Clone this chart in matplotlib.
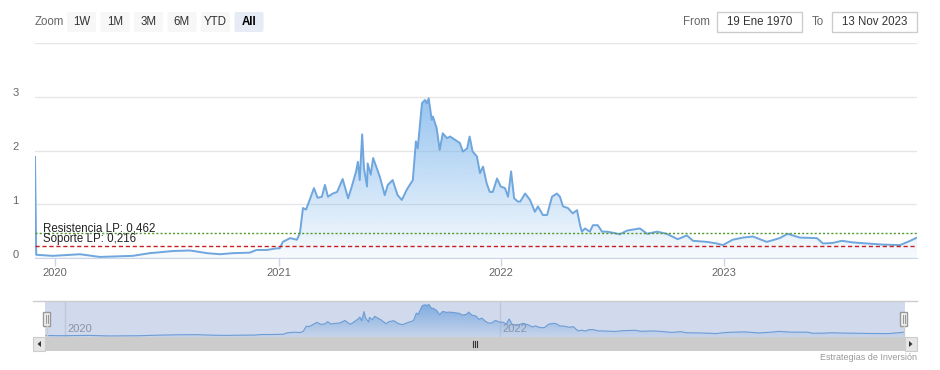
import matplotlib
matplotlib.use("Agg")
import matplotlib.pyplot as plt
import matplotlib.dates as mdates
from matplotlib.patches import Polygon, Rectangle, FancyBboxPatch
from matplotlib.transforms import ScaledTranslation
import numpy as np
import pandas as pd

plt.rcParams["font.family"] = ["Liberation Sans", "DejaVu Sans"]

# ---- data ----
dates = [
    "2019-11-29", "2019-12-01", "2019-12-28", "2020-02-11", "2020-03-14", "2020-05-07",
    "2020-06-04", "2020-07-12", "2020-08-09", "2020-09-06", "2020-09-27", "2020-10-18",
    "2020-11-15", "2020-11-26", "2020-12-13", "2020-12-29",
    "2021-01-03", "2021-01-08", "2021-01-20", "2021-01-31", "2021-02-05", "2021-02-10",
    "2021-02-15", "2021-02-21", "2021-02-28", "2021-03-06", "2021-03-13", "2021-03-18",
    "2021-03-23", "2021-03-31", "2021-04-07", "2021-04-16", "2021-04-25", "2021-05-01",
    "2021-05-08", "2021-05-11", "2021-05-14", "2021-05-18", "2021-05-21", "2021-05-26",
    "2021-05-27", "2021-06-01", "2021-06-05", "2021-06-11", "2021-06-16", "2021-06-24",
    "2021-06-29", "2021-07-07", "2021-07-15", "2021-07-22", "2021-07-30", "2021-08-09",
    "2021-08-14", "2021-08-17", "2021-08-24", "2021-08-29", "2021-09-01", "2021-09-04",
    "2021-09-09", "2021-09-11", "2021-09-17", "2021-09-22", "2021-09-27", "2021-10-04",
    "2021-10-09", "2021-10-17", "2021-10-25", "2021-10-30", "2021-11-06", "2021-11-10",
    "2021-11-15", "2021-11-22", "2021-11-27", "2021-12-02", "2021-12-08", "2021-12-13",
    "2021-12-18", "2021-12-25", "2021-12-31",
    "2022-01-07", "2022-01-12", "2022-01-17", "2022-01-22", "2022-01-28", "2022-02-01",
    "2022-02-09", "2022-02-17", "2022-02-25", "2022-03-02", "2022-03-10", "2022-03-17",
    "2022-03-25", "2022-04-02", "2022-04-07", "2022-04-12", "2022-04-20", "2022-04-28",
    "2022-05-05", "2022-05-10", "2022-05-13", "2022-05-18", "2022-05-26", "2022-05-31",
    "2022-06-08", "2022-06-15", "2022-06-23", "2022-07-03", "2022-07-14", "2022-07-26",
    "2022-08-16", "2022-08-28", "2022-09-13", "2022-09-29", "2022-10-17", "2022-11-01",
    "2022-11-11", "2022-12-04", "2022-12-20", "2022-12-30",
    "2023-01-15", "2023-02-01", "2023-02-17", "2023-03-12", "2023-04-02", "2023-04-15",
    "2023-05-05", "2023-06-02", "2023-06-12", "2023-06-28", "2023-07-13", "2023-07-31",
    "2023-08-23", "2023-09-18", "2023-10-16", "2023-10-29", "2023-11-13",
]
values = [
    1.88, 0.06, 0.04, 0.07, 0.02, 0.04,
    0.09, 0.13, 0.14, 0.09, 0.07, 0.09,
    0.10, 0.15, 0.15, 0.18,
    0.18, 0.30, 0.37, 0.34, 0.46, 0.93,
    0.90, 1.08, 1.30, 1.12, 1.14, 1.36,
    1.14, 1.20, 1.23, 1.47, 1.11, 1.33,
    1.61, 1.79, 1.45, 2.30, 1.67, 1.33,
    1.76, 1.55, 1.86, 1.67, 1.51, 1.17,
    1.36, 1.45, 1.17, 1.08, 1.27, 1.45,
    2.17, 2.04, 2.88, 2.94, 2.88, 2.97,
    2.57, 2.63, 2.42, 2.01, 2.32, 2.23,
    2.26, 2.20, 2.14, 1.98, 2.04, 2.26,
    1.98, 1.89, 1.58, 1.70, 1.39, 1.23,
    1.23, 1.48, 1.33,
    1.30, 1.14, 1.61, 1.11, 1.05, 1.05,
    1.20, 1.08, 0.86, 0.96, 0.80, 0.80,
    1.14, 1.20, 1.14, 0.96, 0.93, 0.83,
    0.89, 0.61, 0.49, 0.55, 0.49, 0.61,
    0.61, 0.49, 0.49, 0.47, 0.44, 0.51,
    0.55, 0.45, 0.49, 0.45, 0.35, 0.42,
    0.32, 0.30, 0.27, 0.24,
    0.34, 0.38, 0.40, 0.30, 0.37, 0.45,
    0.38, 0.37, 0.27, 0.28, 0.32, 0.29,
    0.27, 0.25, 0.24, 0.30, 0.38,
]
resistance = 0.462
support = 0.216
resistance_label = "Resistencia LP: 0,462"
support_label = "Soporte LP: 0,216"
y_ticks = [0, 1, 2, 3, 4]
y_labels = ["0", "1", "2", "3", ""]
year_ticks = ["2020-01-01", "2021-01-01", "2022-01-01", "2023-01-01"]
year_labels = ["2020", "2021", "2022", "2023"]
nav_ticks = ["2020-01-01", "2022-01-01"]
nav_labels = ["2020", "2022"]
range_buttons = ["1W", "1M", "3M", "6M", "YTD", "All"]
selected_button = "All"
date_from = "19 Ene 1970"
date_to = "13 Nov 2023"
credit = "Estrategias de Inversión"

W, H = 940, 370
LINE = "#6fa6dd"
FILL_RGB = np.array([124, 181, 236]) / 255


def frame(left, top, right, bottom):
    return [left / W, 1 - bottom / H, (right - left) / W, (bottom - top) / H]


def gradient_area(axis, xs, ys, base, top_value, top_alpha, bottom_alpha):
    verts = np.column_stack([np.r_[xs[0], xs, xs[-1]], np.r_[base, ys, base]])
    poly = Polygon(verts, closed=True, facecolor="none", edgecolor="none")
    axis.add_patch(poly)
    rgba = np.zeros((256, 1, 4))
    rgba[..., :3] = FILL_RGB
    rgba[:, 0, 3] = np.linspace(top_alpha, bottom_alpha, 256)
    im = axis.imshow(rgba, extent=[xs[0], xs[-1], base, top_value], aspect="auto",
                     origin="upper", interpolation="bilinear", zorder=1)
    im.set_clip_path(poly)


x = mdates.date2num(pd.to_datetime(dates))
y = np.array(values)

fig = plt.figure(figsize=(W / 100, H / 100), dpi=100)

# ---- main plot ----
ax = fig.add_axes(frame(35, 43, 917, 258))
gradient_area(ax, x, y, 0, 3.2, 0.85, 0.06)
ax.plot(x, y, color=LINE, lw=1.4, zorder=3, solid_joinstyle="round")
ax.axhline(resistance, color="#4e9a2e", lw=1, ls=(0, (1.5, 1.5)), zorder=4)
ax.axhline(support, color="#c81e1e", lw=1, ls=(0, (3, 2)), zorder=4)
ax.text(0.009, resistance, resistance_label, transform=ax.get_yaxis_transform(),
        fontsize=8.3, color="#222222", va="baseline", zorder=5,
        ).set_transform(ax.get_yaxis_transform() + ScaledTranslation(0, 2 / 100, fig.dpi_scale_trans))
t2 = ax.text(0.009, support, support_label, fontsize=8.3, color="#222222", va="baseline", zorder=5)
t2.set_transform(ax.get_yaxis_transform() + ScaledTranslation(0, 4 / 100, fig.dpi_scale_trans))

ax.set_xlim(x[0], x[-1])
ax.set_ylim(0, 4)
ax.set_yticks(y_ticks)
ax.set_yticklabels(y_labels)
ax.yaxis.grid(True, color="#e6e6e6", lw=1)
ax.set_axisbelow(True)
ax.tick_params(axis="y", length=0, pad=12, labelsize=8, labelcolor="#666666")
for lab in ax.get_yticklabels():
    lab.set_transform(lab.get_transform() + ScaledTranslation(0, 4.5 / 100, fig.dpi_scale_trans))
ax.set_xticks(mdates.date2num(pd.to_datetime(year_ticks)))
ax.set_xticklabels(year_labels)
ax.tick_params(axis="x", length=5.5, width=1, color="#ccd6eb", pad=1.5,
               labelsize=8, labelcolor="#666666")
for side in ["top", "left", "right"]:
    ax.spines[side].set_visible(False)
ax.spines["bottom"].set_color("#ccd6eb")
ax.spines["bottom"].set_zorder(6)

# ---- navigator ----
nav = fig.add_axes(frame(45, 301, 905, 337))
nav.set_xlim(x[0], x[-1])
nav.set_ylim(-0.08, 3.3)
for t in mdates.date2num(pd.to_datetime(nav_ticks)):
    nav.axvline(t, color="#e6e6e6", lw=1, zorder=0)
for t, lab in zip(mdates.date2num(pd.to_datetime(nav_ticks)), nav_labels):
    txt = nav.text(t, 0.08, lab, transform=nav.get_xaxis_transform(), fontsize=8,
                   color="#8a93a6", ha="left", va="bottom", zorder=6)
    txt.set_transform(nav.get_xaxis_transform() + ScaledTranslation(3 / 100, 0, fig.dpi_scale_trans))
gradient_area(nav, x[1:], y[1:], -0.08, 3.0, 0.9, 0.1)
nav.plot(x[1:], y[1:], color=LINE, lw=0.8, zorder=3)
nav.add_patch(Rectangle((0, 0), 1, 1, transform=nav.transAxes,
                        facecolor=(102 / 255, 133 / 255, 194 / 255, 0.3), edgecolor="none", zorder=5))
nav.set_xticks([])
nav.set_yticks([])
for s in nav.spines.values():
    s.set_visible(False)

# ---- UI chrome in pixel space ----
ui = fig.add_axes([0, 0, 1, 1], zorder=10)
ui.set_xlim(0, W)
ui.set_ylim(H, 0)
ui.axis("off")

ui.text(35, 22, "Zoom", fontsize=8.3, color="#666666", va="center", ha="left")
bx = 67
for lab in range_buttons:
    wbtn = 29
    sel = lab == selected_button
    ui.add_patch(FancyBboxPatch((bx, 12), wbtn, 20, boxstyle="round,pad=0,rounding_size=2",
                                facecolor="#e6ebf5" if sel else "#f7f7f7", edgecolor="none"))
    ui.text(bx + wbtn / 2, 22, lab, fontsize=8.3, color="#000000" if sel else "#333333",
            fontweight="bold" if sel else "normal", ha="center", va="center")
    bx += 33.5

ui.text(696, 22, "From", fontsize=8.3, color="#666666", ha="center", va="center")
ui.add_patch(Rectangle((717, 12), 85, 20, facecolor="white", edgecolor="#cccccc", lw=1))
ui.text(759.5, 22, date_from, fontsize=8.3, color="#333333", ha="center", va="center")
ui.text(818, 22, "To", fontsize=8.3, color="#666666", ha="center", va="center")
ui.add_patch(Rectangle((832, 12), 85, 20, facecolor="white", edgecolor="#cccccc", lw=1))
ui.text(874.5, 22, date_to, fontsize=8.3, color="#333333", ha="center", va="center")

# navigator outline and handles
ui.plot([33, 917], [301, 301], color="#cccccc", lw=1)
for hx in (43, 900):
    ui.plot([hx + 3.5, hx + 3.5], [326, 337], color="#cccccc", lw=1)
    ui.add_patch(Rectangle((hx, 312), 7, 14, facecolor="#f2f2f2", edgecolor="#999999", lw=1))
    ui.plot([hx + 2.5, hx + 2.5], [315, 323], color="#999999", lw=0.8)
    ui.plot([hx + 4.5, hx + 4.5], [315, 323], color="#999999", lw=0.8)

# scrollbar
ui.add_patch(Rectangle((33, 337), 884, 14, facecolor="#f2f2f2", edgecolor="none"))
ui.add_patch(Rectangle((45, 337), 860, 14, facecolor="#cccccc", edgecolor="none"))
for bxs, pts in ((33, [(41, 341), (41, 347), (37.5, 344)]), (905, [(909, 341), (909, 347), (912.5, 344)])):
    ui.add_patch(Rectangle((bxs, 337), 12, 14, facecolor="#e6e6e6", edgecolor="#cccccc", lw=0.8))
    ui.add_patch(Polygon(pts, closed=True, facecolor="#333333", edgecolor="none"))
for gx in (473, 475, 477):
    ui.plot([gx, gx], [341, 347], color="#333333", lw=0.8)

ui.text(917, 357, credit, fontsize=6.5, color="#999999", ha="right", va="center")

fig.savefig("out.png", dpi=100)
